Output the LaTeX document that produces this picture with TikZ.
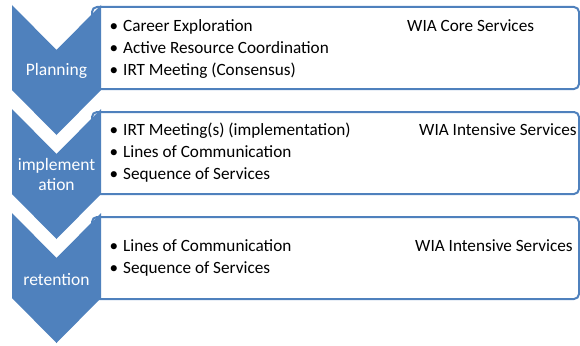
\documentclass[tikz,border=0pt]{standalone}
\usepackage{fontspec}
\setmainfont{Carlito}
\definecolor{chevblue}{HTML}{4F81BD}
\tikzset{
  chev/.style={fill=chevblue, draw=none},
  listbox/.style={draw=chevblue, line width=2pt, fill=white, rounded corners=5pt},
  item/.style={anchor=base west, inner sep=0pt, font=\fontsize{17.2}{20}\selectfont},
  bul/.style={anchor=base, inner sep=0pt, font=\fontsize{17.2}{20}\selectfont},
  side/.style={anchor=base west, inner sep=0pt, font=\fontsize{17.2}{20}\selectfont},
  chevlabel/.style={anchor=base, inner sep=0pt, text=white, font=\fontsize{17.5}{21}\selectfont}
}
\begin{document}
\begin{tikzpicture}[x=1pt, y=-1pt]
\useasboundingbox (0,0) rectangle (580,345);
% boxes
\draw[listbox] (92,7) rectangle (579,89);
\draw[listbox] (92,112) rectangle (579,194);
\draw[listbox] (92,217) rectangle (579,299);
% chevrons
\foreach \t in {5,109,213}{
  \fill[chev] (12,\t) -- (56.5,\t+45) -- (101,\t) -- (101,\t+85) -- (56.5,\t+130) -- (12,\t+85) -- cycle;
}
% chevron labels
\node[chevlabel] (lplan) at (56.5,75) {Planning};
\node[chevlabel] (limp1) at (56.5,170) {implement};
\node[chevlabel] (limp2) at (56.5,190.5) {ation};
\node[chevlabel] (lret) at (56.5,285) {retention};
% box 1
\node[bul] (b11) at (114,31.5) {•};
\node[item] (t11) at (123,31.5) {Career Exploration};
\node[bul] (b12) at (114,53.5) {•};
\node[item] (t12) at (123,53.5) {Active Resource Coordination};
\node[bul] (b13) at (114,75.5) {•};
\node[item] (t13) at (123,75.5) {IRT Meeting (Consensus)};
\node[side] (s1) at (407,31.5) {WIA Core Services};
% box 2
\node[bul] (b21) at (114,135) {•};
\node[item] (t21) at (123,135) {IRT Meeting(s) (implementation)};
\node[bul] (b22) at (114,157) {•};
\node[item] (t22) at (123,157) {Lines of Communication};
\node[bul] (b23) at (114,179) {•};
\node[item] (t23) at (123,179) {Sequence of Services};
\node[side] (s2) at (419,135) {WIA Intensive Services};
% box 3
\node[bul] (b31) at (114,251.5) {•};
\node[item] (t31) at (123,251.5) {Lines of Communication};
\node[bul] (b32) at (114,273) {•};
\node[item] (t32) at (123,273) {Sequence of Services};
\node[side] (s3) at (415,251.5) {WIA Intensive Services};
\end{tikzpicture}
\end{document}
